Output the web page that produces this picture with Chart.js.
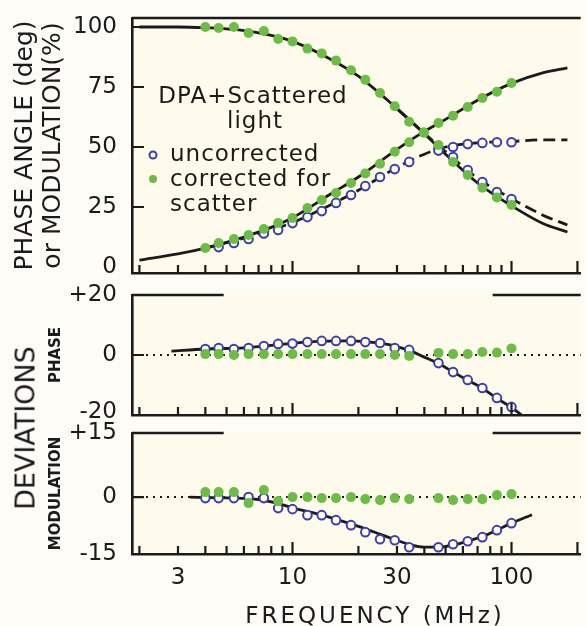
<!DOCTYPE html>
<html>
<head>
<meta charset="utf-8">
<script src="https://cdn.jsdelivr.net/npm/chart.js@4.4.1/dist/chart.umd.min.js"></script>
<style>
  body { margin: 0; background: #fdfcf7; }
  #wrap { position: relative; width: 587px; height: 626px; overflow: hidden; font-family: "DejaVu Sans", sans-serif; color: #1b1b1b; }
  #wrap canvas { position: absolute; left: 0; }
  .deviations { position: absolute; left: 25px; top: 428px; font-size: 27px; white-space: nowrap;
    transform: translate(-50%, -50%) rotate(-90deg); }
  .xtitle { position: absolute; left: 375px; top: 615px; font-size: 23px; letter-spacing: 3px; white-space: nowrap;
    transform: translate(-50%, -50%); }
</style>
</head>
<body>
<div id="wrap">
  <canvas id="topChart" width="587" height="285" style="top:0"></canvas>
  <canvas id="phaseChart" width="587" height="150" style="top:280px"></canvas>
  <canvas id="modChart" width="587" height="208" style="top:418px"></canvas>
  <div class="deviations">DEVIATIONS</div>
  <div class="xtitle">FREQUENCY (MHz)</div>
</div>
<script>
// frequency axis
const X_MIN = 1.85;
const X_MAX = 207;
const X_TICKS = [2, 3, 4, 5, 6, 7, 8, 9, 10, 20, 30, 40, 50, 60, 70, 80, 90, 100, 200];
const X_MAJOR = [10, 100, 200];
const X_LABELS = [3, 10, 30, 100];

// measured frequencies (MHz)
const FREQ = [4.0, 4.6, 5.4, 6.3, 7.4, 8.6, 10, 11.7, 13.6, 15.8, 18.5, 21.5, 25.1, 29.3, 34.1, 39.8, 46.4, 54.1, 63.1, 73.6, 85.8, 100];

// top panel: phase angle (deg) and modulation (%)
const phaseCorrected = [7.9, 10, 11.7, 13.3, 15.8, 18.3, 20.4, 24.6, 27.9, 30.8, 35, 39, 43, 48, 52, 56, 60, 63, 66.7, 70.4, 73, 76.7];
const modCorrected = [100, 99.6, 100, 97.5, 98.3, 95, 94, 91, 89, 86, 82, 78, 72.5, 67, 60.5, 56, 50.8, 43.8, 38.3, 33, 29, 25.8];
const phaseUncorrected = [null, 8.3, 10, 11.7, 14, 15.4, 18.3, 20.8, 23.3, 26.7, 30, 33.7, 37.5, 40.8, 43.8, null, 48.5, 50, 51.2, 51.7, 52, 52];
const modUncorrected = [null, null, null, null, null, null, null, null, null, null, null, null, null, null, null, null, 49.5, 45.8, 40.4, 35.4, 31.2, 28.3];

// fitted curves
const FIT_F = [2, 3, 4, 5, 6, 8, 10, 15, 20, 30, 40, 50, 70, 100, 140, 180];
const phaseFit = [2.9, 5.5, 7.9, 10.3, 12.5, 16.5, 20.5, 30.5, 37.5, 49, 56.5, 61.5, 69.5, 76.5, 81, 83];
const modFit = [100, 100, 99.7, 99.2, 98.5, 96.5, 94, 86.5, 79.5, 66, 55.5, 47, 35, 25.5, 18, 14.6];
const PHASE_DASH_F = [4, 6, 8, 10, 15, 20, 30, 40, 50, 70, 100, 140, 180];
const phaseDash = [7.9, 12, 15.5, 18.5, 26, 32, 41.5, 47, 50, 51.7, 52.3, 53, 53];
const MOD_DASH_F = [30, 40, 50, 70, 100, 140, 180];
const modDash = [66, 55.7, 48, 37, 28.5, 21.5, 17.5];

// deviations
const phaseDevUncorrected = [2, 2.3, 2, 2.3, 3, 3.7, 3.8, 4.3, 4.7, 4.7, 4.7, 4.3, 4, 2.3, 1.7, null, -2.7, -5.7, -8.3, -11, -14.3, -17.3];
const phaseDevCorrected = [0.3, 0.3, 0, 0.3, 0.3, 0.3, 0.3, 0.3, 0.3, 0.3, 0.3, 0.3, 0.3, 0, -0.3, null, 0.7, 0.3, 0.3, 1, 0.8, 2.2];
const modDevUncorrected = [-0.25, -0.25, -0.25, 0, -0.25, -2.75, -3, -4.5, -4.5, -5.75, -7, -8.75, -10.5, -10.75, -12.5, null, -12.5, -11.75, -11, -10, -8.25, -6.5];
const modDevCorrected = [1.25, 1.25, 1.25, -1.5, 1.75, -1, 0, 0, -0.25, -0.25, 0, -0.5, -0.75, -0.25, -0.5, null, -0.25, -0.75, -0.5, -0.5, 0.5, 0.75];
const PHASE_DEV_FIT_F = [2.8, 4, 6, 8, 10, 14, 18, 22, 26, 30, 35, 40, 46, 54, 63, 74, 86, 100, 111];
const phaseDevFit = [1.3, 2, 2.4, 3.2, 3.9, 4.6, 4.7, 4.4, 3.8, 2.8, 1.2, -0.7, -2.7, -5.6, -8.4, -11.2, -14.5, -17.5, -20];
const MOD_DEV_FIT_F = [3.4, 5, 7, 8.5, 10, 13, 16, 20, 25, 30, 35, 40, 46, 54, 63, 74, 86, 100, 124];
const modDevFit = [0, -0.2, -0.6, -1.5, -2.7, -4.2, -5.6, -7.3, -9.2, -10.8, -12, -12.5, -12.5, -12, -11, -9.8, -8.2, -6.5, -4.4];

// value axes
const TOP_TICKS = [0, 25, 50, 75, 100];
const TOP_LABELS = ['0', '25', '50', '75', '100'];
const PHASE_DEV_TICKS = [-19, 0, 20];
const PHASE_DEV_LABELS = ['-20', '0', '+20'];
const MOD_DEV_TICKS = [-14.2, 0, 16];
const MOD_DEV_LABELS = ['-15', '0', '+15'];

const KEY_TITLE = ['DPA+Scattered', 'light'];

const INK = '#1b1b1b';
const BLUE = '#3b3fae';
const GREEN = '#6cbd45';
const PLOT_BG = '#fffbec';

Chart.defaults.font.family = '"DejaVu Sans", sans-serif';
Chart.defaults.color = INK;

const pts = (xs, ys) => xs.map((x, i) => ({ x, y: ys[i] })).filter(p => p.y !== null);

function curve(xs, ys, dash) {
  return {
    data: pts(xs, ys), borderColor: INK, borderWidth: 2.8, borderDash: dash || [],
    pointRadius: 0, cubicInterpolationMode: 'monotone', fill: false, order: 3
  };
}
function openDots(ys) {
  return {
    data: pts(FREQ, ys), showLine: false, pointRadius: 4.3, pointBorderWidth: 2,
    pointBorderColor: BLUE, pointBackgroundColor: PLOT_BG, order: 2
  };
}
function filledDots(ys) {
  return {
    data: pts(FREQ, ys), showLine: false, pointRadius: 5, pointBorderWidth: 0,
    pointBackgroundColor: GREEN, order: 1
  };
}

function freqAxis(showLabels, height) {
  return {
    type: 'logarithmic', min: X_MIN, max: X_MAX,
    grid: { display: false, drawTicks: false },
    border: { display: true, color: INK, width: 2.6 },
    afterBuildTicks: s => { s.ticks = X_TICKS.map(v => ({ value: v })); },
    afterFit: s => { s.height = height; s.paddingLeft = 0; s.paddingRight = 0; },
    ticks: {
      display: showLabels, autoSkip: false, maxRotation: 0, minRotation: 0, padding: 10,
      color: INK, font: { size: 23 },
      callback: v => X_LABELS.includes(v) ? String(v) : ''
    }
  };
}

function valueAxis(min, max, ticks, labels, title) {
  return {
    min, max,
    grid: { display: false, drawTicks: false },
    border: { display: true, color: INK, width: 2.6 },
    afterBuildTicks: s => { s.ticks = ticks.map(v => ({ value: v })); },
    // fixed axis width, and no extra room for the end labels
    afterFit: s => { s.width = 132; s.paddingTop = 0; s.paddingBottom = 0; },
    ticks: { padding: 15, color: INK, font: { size: 23 }, callback: v => labels[ticks.indexOf(v)] ?? '' },
    title
  };
}

// plot background, inside ticks, top edges, dotted zero line
const panelFrame = {
  id: 'panelFrame',
  beforeDraw(chart) {
    const { ctx, chartArea: a } = chart;
    ctx.save();
    ctx.fillStyle = PLOT_BG;
    ctx.fillRect(a.left, a.top, a.right - a.left, a.bottom - a.top);
    ctx.restore();
  },
  beforeDatasetsDraw(chart, args, opts) {
    if (!opts.zeroLine) return;
    const { ctx, chartArea: a, scales: { y } } = chart;
    const py = y.getPixelForValue(0);
    ctx.save();
    ctx.strokeStyle = INK;
    ctx.lineWidth = 2;
    ctx.setLineDash([2, 5]);
    ctx.beginPath();
    ctx.moveTo(a.left + 14, py);
    ctx.lineTo(a.right, py);
    ctx.stroke();
    ctx.restore();
  },
  afterDatasetsDraw(chart, args, opts) {
    const { ctx, chartArea: a, scales: { x, y } } = chart;
    ctx.save();
    ctx.strokeStyle = INK;
    ctx.lineWidth = 2.2;
    ctx.beginPath();
    X_TICKS.forEach(v => {
      const px = x.getPixelForValue(v);
      ctx.moveTo(px, a.bottom);
      ctx.lineTo(px, a.bottom - (X_MAJOR.includes(v) ? 12 : 8));
    });
    opts.yTicks.forEach(v => {
      const py = y.getPixelForValue(v);
      ctx.moveTo(a.left, py);
      ctx.lineTo(a.left + 12, py);
    });
    ctx.stroke();
    ctx.lineWidth = 2.6;
    ctx.beginPath();
    opts.topEdges.forEach(([from, to]) => {
      ctx.moveTo(x.getPixelForValue(from), a.top);
      ctx.lineTo(x.getPixelForValue(to), a.top);
    });
    ctx.stroke();
    ctx.restore();
  }
};

// legend block inside the top panel
const scatterKey = {
  id: 'scatterKey',
  afterDraw(chart) {
    const { ctx } = chart;
    ctx.save();
    ctx.fillStyle = INK;
    ctx.font = '23px "DejaVu Sans"';
    ctx.letterSpacing = '1px';
    ctx.textBaseline = 'alphabetic';
    ctx.textAlign = 'center';
    ctx.fillText(KEY_TITLE[0], 253, 103);
    ctx.fillText(KEY_TITLE[1], 255, 128);
    ctx.textAlign = 'left';
    ctx.fillText('uncorrected', 170, 161);
    ctx.fillText('corrected for', 170, 186);
    ctx.fillText('scatter', 170, 211);

    ctx.beginPath();
    ctx.arc(153, 155, 3.5, 0, Math.PI * 2);
    ctx.fillStyle = PLOT_BG;
    ctx.fill();
    ctx.lineWidth = 2;
    ctx.strokeStyle = BLUE;
    ctx.stroke();
    ctx.beginPath();
    ctx.arc(153, 179, 4, 0, Math.PI * 2);
    ctx.fillStyle = GREEN;
    ctx.fill();
    ctx.restore();
  }
};

const common = {
  responsive: false,
  animation: false,
  plugins: { legend: { display: false }, tooltip: { enabled: false } }
};

new Chart(document.getElementById('topChart'), {
  type: 'line',
  data: {
    datasets: [
      curve(FIT_F, phaseFit),
      curve(FIT_F, modFit),
      curve(PHASE_DASH_F, phaseDash, [12, 6]),
      curve(MOD_DASH_F, modDash, [12, 6]),
      openDots(phaseUncorrected),
      openDots(modUncorrected),
      filledDots(phaseCorrected),
      filledDots(modCorrected)
    ]
  },
  options: {
    ...common,
    layout: { padding: { top: 18, left: 0, right: 0, bottom: 0 } },
    plugins: { ...common.plugins, panelFrame: { yTicks: [25, 50, 75, 100], topEdges: [[X_MIN, X_MAX]] } },
    scales: {
      x: freqAxis(false, 12),
      y: valueAxis(-2.5, 103.75, TOP_TICKS, TOP_LABELS, {
        display: true, text: ['PHASE ANGLE (deg)', 'or MODULATION(%)'], color: INK,
        font: { size: 25, lineHeight: 1.1 }, padding: { top: 12, bottom: 0 }
      })
    }
  },
  plugins: [panelFrame, scatterKey]
});

new Chart(document.getElementById('phaseChart'), {
  type: 'line',
  data: {
    datasets: [
      curve(PHASE_DEV_FIT_F, phaseDevFit),
      openDots(phaseDevUncorrected),
      filledDots(phaseDevCorrected)
    ]
  },
  options: {
    ...common,
    layout: { padding: { top: 15, left: 0, right: 0, bottom: 0 } },
    plugins: { ...common.plugins, panelFrame: { zeroLine: true, yTicks: [0], topEdges: [[X_MIN, 4.85], [82, X_MAX]] } },
    scales: {
      x: freqAxis(false, 15),
      y: valueAxis(-20, 20, PHASE_DEV_TICKS, PHASE_DEV_LABELS, {
        display: true, text: 'PHASE', color: INK,
        font: { size: 15, weight: 'bold', lineHeight: 1.2 }, padding: { top: 47, bottom: 0 }
      })
    }
  },
  plugins: [panelFrame]
});

new Chart(document.getElementById('modChart'), {
  type: 'line',
  data: {
    datasets: [
      curve(MOD_DEV_FIT_F, modDevFit),
      openDots(modDevUncorrected),
      filledDots(modDevCorrected)
    ]
  },
  options: {
    ...common,
    layout: { padding: { top: 15, left: 0, right: 0, bottom: 0 } },
    plugins: { ...common.plugins, panelFrame: { zeroLine: true, yTicks: [0], topEdges: [[X_MIN, 4.85], [82, X_MAX]] } },
    scales: {
      x: freqAxis(true, 72),
      y: valueAxis(-14.2, 16, MOD_DEV_TICKS, MOD_DEV_LABELS, {
        display: true, text: 'MODULATION', color: INK,
        font: { size: 15, weight: 'bold', lineHeight: 1.2 }, padding: { top: 47, bottom: 0 }
      })
    }
  },
  plugins: [panelFrame]
});
</script>
</body>
</html>
